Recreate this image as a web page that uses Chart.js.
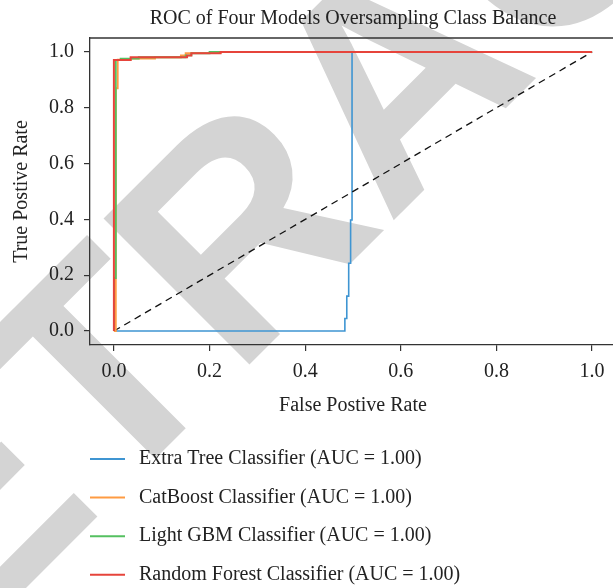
<!DOCTYPE html>
<html>
<head>
<meta charset="utf-8">
<title>ROC of Four Models Oversampling Class Balance</title>
<script src="https://cdn.jsdelivr.net/npm/chart.js@4.4.1/dist/chart.umd.min.js"></script>
<style>
  html, body { margin: 0; padding: 0; background: #fff; overflow: hidden; }
  #wrap { width: 616px; height: 588px; }
</style>
</head>
<body>
<div id="wrap"><canvas id="rocChart" width="616" height="588"></canvas></div>
<script>
// ROC points (false positive rate / true positive rate)
const extraFpr = [0, 0.483, 0.483, 0.487, 0.487, 0.491, 0.491, 0.495, 0.495, 0.498, 0.498, 1];
const extraTpr = [0, 0, 0.045, 0.045, 0.125, 0.125, 0.243, 0.243, 0.398, 0.398, 1, 1];

const catFpr = [0, 0.004, 0.004, 0.008, 0.008, 0.035, 0.035, 0.086, 0.086, 0.14, 0.14, 0.15, 0.15, 0.223, 0.223, 1];
const catTpr = [0, 0, 0.87, 0.87, 0.972, 0.972, 0.976, 0.976, 0.981, 0.981, 0.988, 0.988, 0.996, 0.996, 1, 1];

const lgbmFpr = [0, 0, 0.004, 0.004, 0.014, 0.014, 0.052, 0.052, 0.15, 0.15, 0.162, 0.162, 0.2, 0.2, 1];
const lgbmTpr = [0, 0.19, 0.19, 0.971, 0.971, 0.976, 0.976, 0.981, 0.981, 0.988, 0.988, 0.995, 0.995, 1, 1];

const forestFpr = [0, 0, 0.035, 0.035, 0.153, 0.153, 0.162, 0.162, 0.223, 0.223, 1];
const forestTpr = [0, 0.971, 0.971, 0.981, 0.981, 0.987, 0.987, 0.995, 0.995, 1, 1];

const chanceLine = [0, 1];

const modelLabels = [
    'Extra Tree Classifier (AUC = 1.00)',
    'CatBoost Classifier (AUC = 1.00)',
    'Light GBM Classifier (AUC = 1.00)',
    'Random Forest Classifier (AUC = 1.00)'
];
const lineColors = ['#3f95d2', '#ff9b42', '#55c060', '#e6443b'];

const xTicks = [0, 0.2, 0.4, 0.6, 0.8, 1.0];
const yTicks = [0, 0.2, 0.4, 0.6, 0.8, 1.0];

const titleText = 'ROC of Four Models Oversampling Class Balance';
const serif = '"Liberation Serif", "Times New Roman", serif';
const textColor = '#222';
const axisColor = '#333';

function curve(fpr, tpr) {
    return fpr.map(function(x, i) { return { x: x, y: tpr[i] }; });
}

// grey "RETRACTED" stamp under the plot
const watermark = {
    id: 'watermark',
    beforeDraw(chart) {
        const ctx = chart.ctx;
        ctx.save();
        ctx.fillStyle = '#d4d4d4';
        ctx.font = 'bold 300px "Liberation Sans", Arial, sans-serif';
        ctx.textAlign = 'left';
        ctx.textBaseline = 'alphabetic';
        ctx.translate(-189, 803);
        ctx.rotate(-Math.PI / 4);
        ctx.fillText('RETRACTED', 0, 0);
        ctx.restore();
    }
};

// top frame line, title and the legend below the axes
const decorations = {
    id: 'decorations',
    afterDraw(chart) {
        const ctx = chart.ctx;
        const a = chart.chartArea;
        ctx.save();
        ctx.strokeStyle = axisColor;
        ctx.lineWidth = 1.3;
        ctx.beginPath();
        ctx.moveTo(a.left, a.top);
        ctx.lineTo(a.right, a.top);
        ctx.stroke();

        ctx.fillStyle = textColor;
        ctx.font = '20px ' + serif;
        ctx.textAlign = 'center';
        ctx.textBaseline = 'middle';
        ctx.fillText(titleText, (a.left + a.right) / 2, 19);

        ctx.textAlign = 'left';
        modelLabels.forEach(function(label, i) {
            const y = 459 + i * 38.6;
            ctx.strokeStyle = lineColors[i];
            ctx.lineWidth = 2;
            ctx.beginPath();
            ctx.moveTo(90, y);
            ctx.lineTo(125, y);
            ctx.stroke();
            ctx.fillText(label, 139, y);
        });
        ctx.restore();
    }
};

const lineStyle = { showLine: true, pointRadius: 0, pointHoverRadius: 0, fill: false, tension: 0 };

const ctx = document.getElementById('rocChart').getContext('2d');
const rocChart = new Chart(ctx, {
    type: 'scatter',
    data: {
        datasets: [
            Object.assign({ label: modelLabels[0], data: curve(extraFpr, extraTpr), borderColor: lineColors[0], borderWidth: 1.6, order: 5 }, lineStyle),
            Object.assign({ label: 'chance', data: curve(chanceLine, chanceLine), borderColor: '#111', borderWidth: 1.3, borderDash: [7, 5], order: 4 }, lineStyle),
            Object.assign({ label: modelLabels[1], data: curve(catFpr, catTpr), borderColor: lineColors[1], borderWidth: 1.8, order: 3 }, lineStyle),
            Object.assign({ label: modelLabels[2], data: curve(lgbmFpr, lgbmTpr), borderColor: lineColors[2], borderWidth: 1.8, order: 2 }, lineStyle),
            Object.assign({ label: modelLabels[3], data: curve(forestFpr, forestTpr), borderColor: lineColors[3], borderWidth: 2, order: 1 }, lineStyle)
        ]
    },
    options: {
        responsive: false,
        animation: false,
        devicePixelRatio: 1,
        layout: { padding: { top: 38, left: 0, right: 0, bottom: 0 } },
        plugins: {
            legend: { display: false },
            title: { display: false },
            tooltip: { enabled: false }
        },
        scales: {
            x: {
                type: 'linear',
                min: -0.05,
                max: 1.05,
                afterFit: function(scale) { scale.height = 243; },
                afterBuildTicks: function(scale) {
                    scale.ticks = xTicks.map(function(v) { return { value: v }; });
                },
                grid: { drawOnChartArea: false, drawTicks: true, tickLength: 6, color: axisColor, lineWidth: 1.2 },
                border: { display: true, color: axisColor, width: 1.3 },
                ticks: {
                    padding: 9,
                    color: textColor,
                    maxRotation: 0,
                    autoSkip: false,
                    font: { family: serif, size: 20 },
                    callback: function(value) { return value.toFixed(1); }
                },
                title: {
                    display: true,
                    text: 'False Postive Rate',
                    color: textColor,
                    font: { family: serif, size: 20 },
                    padding: { top: 0, bottom: 170 }
                }
            },
            y: {
                type: 'linear',
                min: -0.05,
                max: 1.05,
                afterFit: function(scale) { scale.width = 90; },
                afterBuildTicks: function(scale) {
                    scale.ticks = yTicks.map(function(v) { return { value: v }; });
                },
                grid: { drawOnChartArea: false, drawTicks: true, tickLength: 6, color: axisColor, lineWidth: 1.2 },
                border: { display: true, color: axisColor, width: 1.3 },
                ticks: {
                    padding: 10,
                    color: textColor,
                    font: { family: serif, size: 20 },
                    callback: function(value) { return value.toFixed(1); }
                },
                title: {
                    display: true,
                    text: 'True Postive Rate',
                    color: textColor,
                    font: { family: serif, size: 20 },
                    padding: { top: 9.5, bottom: 0 }
                }
            }
        }
    },
    plugins: [watermark, decorations]
});
</script>
</body>
</html>
